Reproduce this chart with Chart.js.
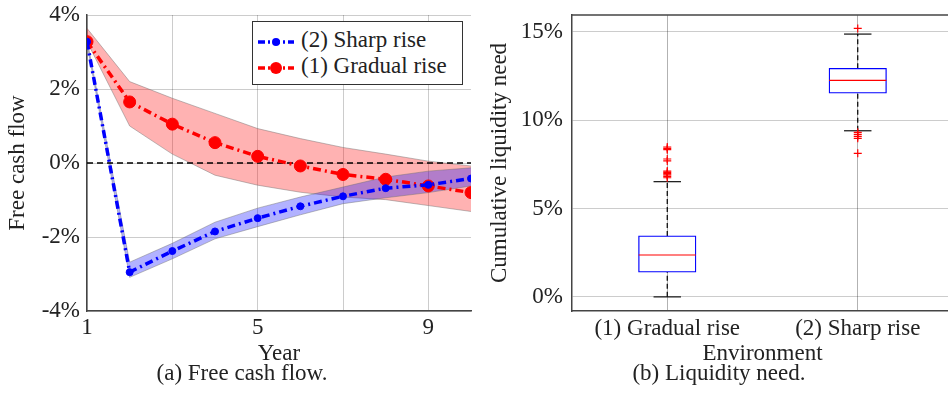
<!DOCTYPE html>
<html>
<head>
<meta charset="utf-8">
<script src="https://cdn.jsdelivr.net/npm/chart.js@4.4.1/dist/chart.umd.min.js"></script>
<style>
  html, body { margin: 0; padding: 0; background: #fff; overflow: hidden; }
  body { width: 948px; height: 412px; position: relative; font-family: "Liberation Serif", "DejaVu Serif", serif; color: #222; }
  .box { position: absolute; top: 0; height: 412px; }
  #leftBox { left: 0; width: 480px; }
  #rightBox { left: 480px; width: 480px; }
  .caption { position: absolute; top: 360px; font-size: 23px; text-align: center; width: 300px; }
  #legend { position: absolute; left: 252px; top: 21px; width: 209px; height: 62px; border: 1.3px solid #333; background: #fff; font-size: 23px; }
  #legend .row { position: absolute; left: 4px; height: 26px; line-height: 26px; white-space: nowrap; }
  #legend svg { vertical-align: middle; margin-right: 6px; }
</style>
</head>
<body>
<div class="box" id="leftBox"><canvas id="cashChart"></canvas></div>
<div class="box" id="rightBox"><canvas id="needChart"></canvas></div>

<div id="legend">
  <div class="row" style="top:5px">
    <svg width="38" height="14"><line x1="1" y1="7" x2="37" y2="7" stroke="#0000ff" stroke-width="3.5" stroke-dasharray="7,3,2,3"/><circle cx="19" cy="7" r="4" fill="#0000ff"/></svg>(2) Sharp rise
  </div>
  <div class="row" style="top:31px">
    <svg width="38" height="14"><line x1="1" y1="7" x2="37" y2="7" stroke="#ff0000" stroke-width="3.5" stroke-dasharray="7,3,2,3"/><circle cx="19" cy="7" r="6" fill="#ff0000"/></svg>(1) Gradual rise
  </div>
</div>

<div class="caption" style="left:92px">(a) Free cash flow.</div>
<div class="caption" style="left:569px">(b) Liquidity need.</div>

<script>
// ---- left panel: free cash flow (%) per year ----
const years = [1, 2, 3, 4, 5, 6, 7, 8, 9, 10];
const gradualMean  = [3.28, 1.65, 1.05, 0.55, 0.18, -0.08, -0.31, -0.44, -0.62, -0.80];
const gradualUpper = [3.64, 2.20, 1.75, 1.34, 0.93, 0.66, 0.42, 0.24, 0.05, -0.08];
const gradualLower = [3.28, 1.00, 0.24, -0.33, -0.60, -0.79, -0.92, -0.99, -1.15, -1.31];
const sharpMean  = [3.28, -2.95, -2.38, -1.85, -1.49, -1.17, -0.90, -0.68, -0.59, -0.42];
const sharpUpper = [3.34, -2.68, -2.17, -1.60, -1.22, -0.92, -0.65, -0.38, -0.22, -0.13];
const sharpLower = [3.22, -3.09, -2.59, -2.05, -1.72, -1.40, -1.10, -0.94, -0.80, -0.62];
const yearTicks = [1, 3, 5, 7, 9];
const yearLabels = [1, 5, 9];

// ---- right panel: cumulative liquidity need (%) ----
const envNames = ['(1) Gradual rise', '(2) Sharp rise'];
const envPos = [1, 2];
const q1 = [1.40, 11.52];
const median = [2.37, 12.25];
const q3 = [3.45, 12.93];
const whiskerLow = [0.00, 9.40];
const whiskerHigh = [6.52, 14.87];
const outliersGradual = [8.48, 8.40, 8.33, 7.80, 7.69, 7.12, 7.05, 6.97, 6.90, 6.82, 6.74];
const outliersSharp = [15.19, 9.31, 9.20, 9.08, 8.97, 8.12];
const needTicks = [0, 5, 10, 15];

const font = { family: "'Liberation Serif', 'DejaVu Serif', serif", size: 23 };
const textColor = '#222';
const gridColor = 'rgba(0,0,0,0.2)';
const axisColor = '#444';

const pts = (ys) => years.map((x, i) => ({ x: x, y: ys[i] }));

// fixed axis boxes so the plot areas sit where the reference has them
const fixX = s => { s.height = 57; s.paddingLeft = 0; s.paddingRight = 0; };
const fixY = w => s => { s.width = w; s.paddingTop = 0; s.paddingBottom = 0; };

function band(ys, fillColor, fillTo, order) {
  return {
    data: pts(ys), fill: fillTo, backgroundColor: fillColor,
    borderColor: 'rgba(110,110,110,0.45)', borderWidth: 1,
    pointRadius: 0, tension: 0, order: order
  };
}

new Chart(document.getElementById('cashChart'), {
  type: 'line',
  data: {
    datasets: [
      band(gradualUpper, 'rgba(255,0,0,0.3)', '+1', 6),
      band(gradualLower, 'transparent', false, 5),
      band(sharpUpper, 'rgba(0,0,255,0.3)', '+1', 4),
      band(sharpLower, 'transparent', false, 3),
      {
        data: years.map(x => ({ x: x, y: 0 })),
        borderColor: '#000', borderWidth: 1.5, borderDash: [6, 4],
        pointRadius: 0, fill: false, order: 2
      },
      {
        label: '(1) Gradual rise', data: pts(gradualMean),
        borderColor: '#ff0000', backgroundColor: '#ff0000', borderWidth: 3.5,
        borderDash: [8, 4, 2, 4], pointRadius: 6, pointBorderWidth: 1,
        fill: false, order: 1
      },
      {
        label: '(2) Sharp rise', data: pts(sharpMean),
        borderColor: '#0000ff', backgroundColor: '#0000ff', borderWidth: 3.5,
        borderDash: [8, 4, 2, 4], pointRadius: 3.5, pointBorderWidth: 1,
        fill: false, order: 0
      }
    ]
  },
  options: {
    responsive: true,
    maintainAspectRatio: false,
    animation: false,
    layout: { padding: { top: 15, right: 9, left: 0, bottom: 44 } },
    plugins: { legend: { display: false }, tooltip: { enabled: false } },
    scales: {
      x: {
        type: 'linear', min: 1, max: 10,
        afterBuildTicks: s => { s.ticks = yearTicks.map(v => ({ value: v })); },
        afterFit: fixX,
        grid: { color: gridColor, drawTicks: false },
        border: { color: axisColor, width: 1.5 },
        ticks: {
          font: font, color: textColor, padding: 3, maxRotation: 0,
          callback: v => yearLabels.includes(v) ? String(v) : ''
        },
        title: { display: true, text: 'Year', font: font, color: textColor, padding: 0 }
      },
      y: {
        min: -4, max: 4,
        ticks: { stepSize: 2, font: font, color: textColor, padding: 7, callback: v => v + '%' },
        afterFit: fixY(87),
        grid: { color: gridColor, drawTicks: false },
        border: { color: axisColor, width: 1.5 },
        title: { display: true, text: 'Free cash flow', font: font, color: textColor, padding: 4 }
      }
    }
  }
});

// frame line along the top of the box plot
const topFrame = {
  id: 'topFrame',
  afterDraw(chart) {
    const a = chart.chartArea, c = chart.ctx;
    c.save();
    c.strokeStyle = axisColor;
    c.lineWidth = 1.5;
    c.beginPath();
    c.moveTo(a.left, a.top);
    c.lineTo(a.right, a.top);
    c.stroke();
    c.restore();
  }
};

const boxHalf = 0.15;
const capHalf = 0.072;
const seg = (x0, y0, x1, y1) => [{ x: x0, y: y0 }, { x: x1, y: y1 }];
const boxParts = [];
envPos.forEach((p, i) => {
  const lineStyle = { type: 'line', pointRadius: 0, fill: false, order: 2 };
  boxParts.push(Object.assign({ data: seg(p, q3[i], p, whiskerHigh[i]), borderColor: '#000', borderWidth: 1.2, borderDash: [5, 3] }, lineStyle));
  boxParts.push(Object.assign({ data: seg(p, whiskerLow[i], p, q1[i]), borderColor: '#000', borderWidth: 1.2, borderDash: [5, 3] }, lineStyle));
  boxParts.push(Object.assign({ data: seg(p - capHalf, whiskerHigh[i], p + capHalf, whiskerHigh[i]), borderColor: '#222', borderWidth: 1.3 }, lineStyle));
  boxParts.push(Object.assign({ data: seg(p - capHalf, whiskerLow[i], p + capHalf, whiskerLow[i]), borderColor: '#222', borderWidth: 1.3 }, lineStyle));
  boxParts.push(Object.assign({}, lineStyle, { data: seg(p - boxHalf, median[i], p + boxHalf, median[i]), borderColor: '#ff0000', borderWidth: 1.2, order: 0 }));
});

new Chart(document.getElementById('needChart'), {
  type: 'bar',
  data: {
    datasets: [
      {
        type: 'bar',
        data: envPos.map((p, i) => ({ x: p, y: [q1[i], q3[i]] })),
        backgroundColor: '#fff', borderColor: '#0000ff', borderWidth: 1.3,
        borderSkipped: false, barThickness: 57.5, order: 1
      },
      ...boxParts,
      {
        type: 'line', showLine: false,
        data: outliersGradual.map(v => ({ x: envPos[0], y: v }))
          .concat(outliersSharp.map(v => ({ x: envPos[1], y: v }))),
        pointStyle: 'cross', pointRadius: 4, borderColor: '#ff0000', borderWidth: 1.2,
        order: 0
      }
    ]
  },
  options: {
    responsive: true,
    maintainAspectRatio: false,
    animation: false,
    layout: { padding: { top: 15, right: 7, left: 0, bottom: 44 } },
    plugins: { legend: { display: false }, tooltip: { enabled: false } },
    scales: {
      x: {
        type: 'linear', min: 0.5, max: 2.5, offset: false,
        afterBuildTicks: s => { s.ticks = envPos.map(v => ({ value: v })); },
        afterFit: fixX,
        grid: { color: 'rgba(0,0,0,0.3)', drawTicks: false, offset: false },
        border: { color: axisColor, width: 1.5 },
        ticks: { font: font, color: textColor, padding: 4, maxRotation: 0, callback: v => envNames[envPos.indexOf(v)] || '' },
        title: { display: true, text: 'Environment', font: font, color: textColor, padding: 0 }
      },
      y: {
        min: -0.8, max: 15.95,
        afterBuildTicks: s => { s.ticks = needTicks.map(v => ({ value: v })); },
        afterFit: fixY(92),
        ticks: { font: font, color: textColor, padding: 9, callback: v => v + '%' },
        grid: { color: gridColor, drawTicks: false },
        border: { color: axisColor, width: 1.5 },
        title: { display: true, text: 'Cumulative liquidity need', font: font, color: textColor, padding: 6 }
      }
    }
  },
  plugins: [topFrame]
});
</script>
</body>
</html>
